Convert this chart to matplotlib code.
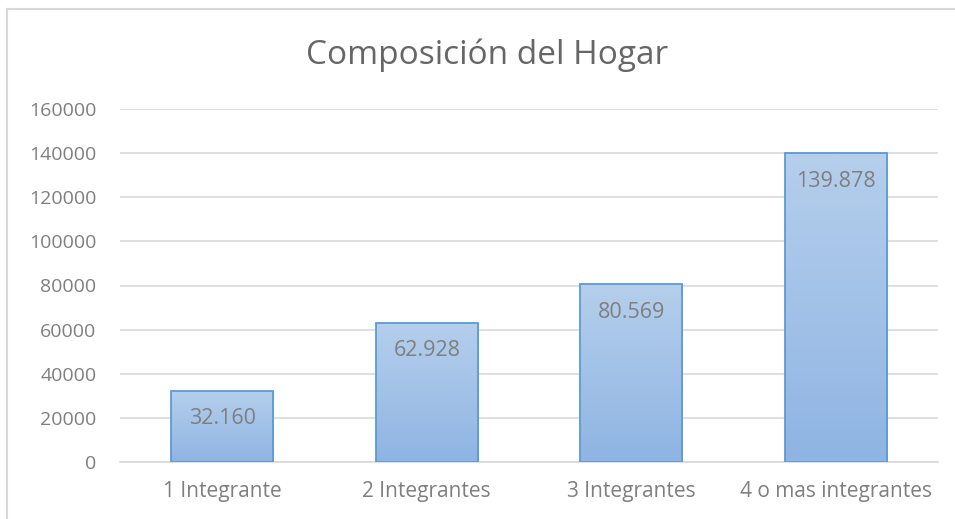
import matplotlib.pyplot as plt
from matplotlib.lines import Line2D
from matplotlib.colors import LinearSegmentedColormap
import numpy as np

categories = ['1 Integrante', '2 Integrantes', '3 Integrantes', '4 o mas integrantes']
values = [32160, 62928, 80569, 139878]
labels = ['32.160', '62.928', '80.569', '139.878']
yticks = [0, 20000, 40000, 60000, 80000, 100000, 120000, 140000, 160000]

plt.rcParams['font.family'] = ['Open Sans', 'DejaVu Sans']
gray = '#7f7f7f'

fig = plt.figure(figsize=(9.55, 5.19), dpi=100)
ax = fig.add_axes([120/955, 57/519, 818/955, 353/519])

x = np.arange(len(categories))
bars = ax.bar(x, values, width=0.5, color='none', edgecolor='#5b9bd5', linewidth=1.3, zorder=3)

# vertical gradient inside each bar
grad = np.linspace(0, 1, 256).reshape(-1, 1)
cmap = LinearSegmentedColormap.from_list('g', ['#8fb4e3', '#b5cfec'])
for b in bars:
    x0, y0 = b.get_x(), b.get_y()
    w, h = b.get_width(), b.get_height()
    im = ax.imshow(grad, cmap=cmap, aspect='auto', origin='lower',
                   extent=[x0, x0 + w, y0, y0 + h], zorder=2)
    im.set_clip_path(b)

for xi, v, lab in zip(x, values, labels):
    ax.annotate(lab, (xi, v), xytext=(0, -20), textcoords='offset points',
                ha='center', va='center', fontsize=15.5, color=gray, zorder=4)

ax.set_xlim(-0.5, 3.5)
ax.set_ylim(0, 160000)
ax.set_yticks(yticks)
ax.set_yticklabels([str(t) for t in yticks])
ax.set_xticks(x)
ax.set_xticklabels(categories)
ax.tick_params(axis='both', length=0, labelsize=14, colors=gray)
ax.tick_params(axis='x', labelsize=15, pad=14)
ax.tick_params(axis='y', pad=17)
ax.grid(axis='y', color='#d9d9d9', linewidth=1.2, zorder=0)
ax.set_axisbelow(True)
for s in ['top', 'right', 'left']:
    ax.spines[s].set_visible(False)
ax.spines['bottom'].set_color('#d9d9d9')
ax.spines['bottom'].set_linewidth(1.2)

fig.text(487/955, 1 - 55/519, 'Composición del Hogar', ha='center', va='center',
         fontsize=24, color='#666666')

# chart frame (top and left edges visible)
fig.add_artist(Line2D([7/955, 7/955], [0, 1 - 9/519], transform=fig.transFigure, color='#d9d9d9', lw=1.5))
fig.add_artist(Line2D([7/955, 1], [1 - 9/519, 1 - 9/519], transform=fig.transFigure, color='#d9d9d9', lw=1.5))

fig.savefig('out.png', dpi=100, facecolor='white')
